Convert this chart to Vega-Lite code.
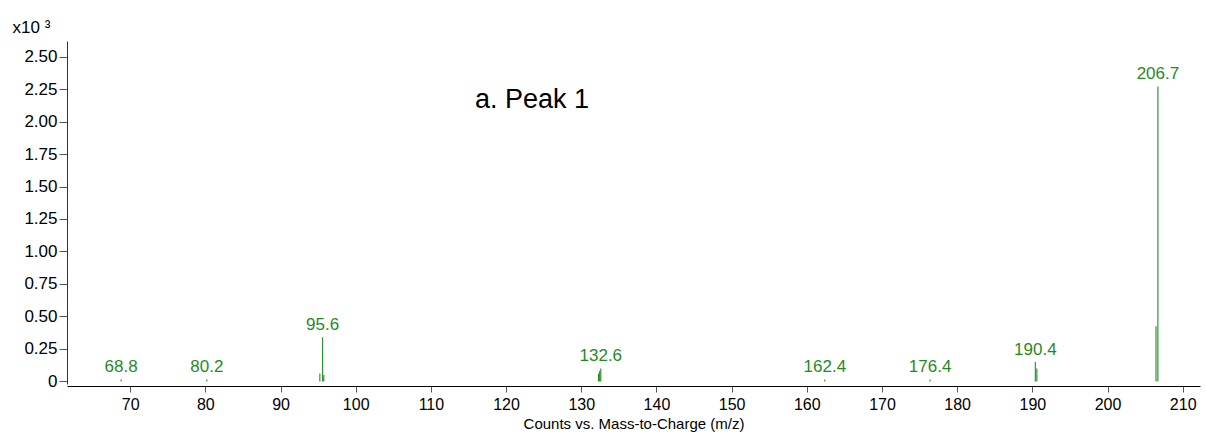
{
  "$schema": "https://vega.github.io/schema/vega-lite/v6.json",
  "width": 1133,
  "height": 343,
  "autosize": {"type": "none"},
  "padding": {"left": 67, "top": 41, "right": 5, "bottom": 57},
  "background": "white",
  "title": {"text": "a. Peak 1", "orient": "top", "anchor": "start", "frame": "group", "dx": 408, "dy": 123, "offset": 0, "baseline": "bottom", "font": "Liberation Sans", "fontSize": 27, "fontWeight": "normal", "color": "#000"},
  "config": {
    "view": {"stroke": null},
    "font": "Liberation Sans",
    "axis": {"grid": false, "labelFont": "Liberation Sans", "titleFont": "Liberation Sans", "labelColor": "#000", "titleColor": "#000", "domainColor": "#333", "tickColor": "#555"}
  },
  "data": {
    "values": [
      {"mz": 68.8, "intensity": 0.015, "label": "68.8"},
      {"mz": 80.2, "intensity": 0.015, "label": "80.2"},
      {"mz": 95.23, "intensity": 0.06, "label": ""},
      {"mz": 95.6, "intensity": 0.34, "label": "95.6"},
      {"mz": 95.76, "intensity": 0.05, "label": ""},
      {"mz": 132.3, "intensity": 0.06, "label": ""},
      {"mz": 132.45, "intensity": 0.08, "label": ""},
      {"mz": 132.6, "intensity": 0.1, "label": "132.6"},
      {"mz": 162.4, "intensity": 0.015, "label": "162.4"},
      {"mz": 176.4, "intensity": 0.015, "label": "176.4"},
      {"mz": 190.4, "intensity": 0.15, "label": "190.4"},
      {"mz": 190.6, "intensity": 0.1, "label": ""},
      {"mz": 206.45, "intensity": 0.425, "label": ""},
      {"mz": 206.7, "intensity": 2.27, "label": "206.7"}
    ]
  },
  "encoding": {
    "x": {
      "field": "mz", "type": "quantitative",
      "scale": {"domain": [61.6, 212.3], "nice": false, "zero": false},
      "axis": {"values": [70, 80, 90, 100, 110, 120, 130, 140, 150, 160, 170, 180, 190, 200, 210], "title": "Counts vs. Mass-to-Charge (m/z)", "titleFontSize": 15, "titleFontWeight": "normal", "labelFontSize": 16, "tickSize": 6, "labelPadding": 4, "titlePadding": 4, "domainColor": "#000", "offset": 2}
    },
    "y": {
      "field": "intensity", "type": "quantitative",
      "scale": {"domain": [-0.02, 2.62], "nice": false, "zero": false},
      "axis": {"values": [0, 0.25, 0.5, 0.75, 1, 1.25, 1.5, 1.75, 2, 2.25, 2.5], "labelOverlap": false, "labelExpr": "datum.value == 0 ? '0' : format(datum.value, '.2f')", "labelFontSize": 17, "tickSize": 8, "labelPadding": 2, "title": "x10 ³", "titleAngle": 0, "titleAlign": "left", "titleBaseline": "middle", "titleX": -55, "titleY": -14, "titleFontSize": 17, "titleFontWeight": "normal"}
    }
  },
  "layer": [
    {
      "mark": {"type": "rule", "color": "#1f8c1f", "strokeWidth": 1.1},
      "encoding": {
        "y2": {"datum": 0}
      }
    },
    {
      "transform": [{"filter": "datum.label != ''"}],
      "mark": {"type": "text", "color": "#1f8c1f", "fontSize": 17, "baseline": "bottom", "align": "center", "dy": -3, "font": "Liberation Sans"},
      "encoding": {
        "text": {"field": "label"}
      }
    }
  ]
}
